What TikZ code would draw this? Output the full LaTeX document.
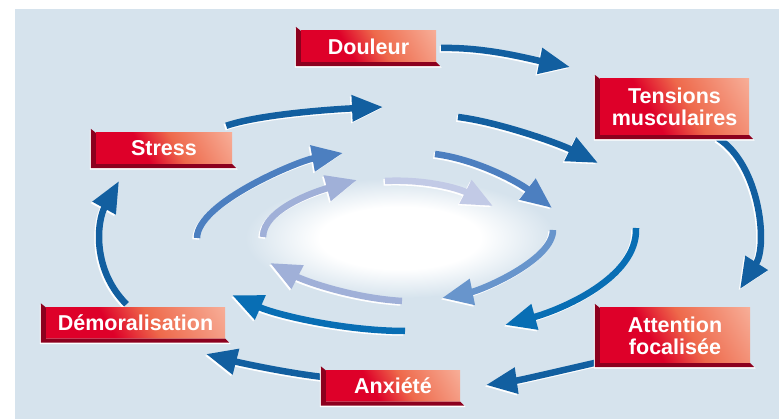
\documentclass[tikz,border=0pt]{standalone}
\usepackage{fontspec}
\setmainfont{Liberation Sans}
\usetikzlibrary{arrows.meta}
\pgfdeclarelayer{back}
\pgfdeclarelayer{mid}
\pgfsetlayers{back,mid,main}

\definecolor{bgblue}{RGB}{214,227,237}
\definecolor{bevel}{RGB}{140,0,30}
\definecolor{boxred}{RGB}{222,0,41}
\definecolor{boxmid}{RGB}{238,105,75}
\definecolor{boxpeach}{RGB}{252,212,194}
\definecolor{ring1}{RGB}{18,95,160}
\definecolor{ring2}{RGB}{8,110,180}
\definecolor{ring3}{RGB}{76,127,192}
\definecolor{ring4}{RGB}{104,149,204}
\definecolor{ring5}{RGB}{160,176,216}
\definecolor{ring6}{RGB}{194,202,230}

\pgfdeclarehorizontalshading{boxshade}{100bp}{color(0bp)=(boxred); color(40bp)=(boxred); color(56bp)=(boxmid); color(100bp)=(boxpeach)}
\pgfdeclareradialshading{glow}{\pgfpoint{0bp}{0bp}}{color(0bp)=(white); color(13bp)=(white); color(25bp)=(bgblue); color(50bp)=(bgblue)}

\tikzset{
	labelbox/.style={shade, shading=boxshade, shading angle=30, minimum height=31pt, inner sep=0pt, text=white, font=\fontsize{21.5}{22}\selectfont\bfseries, align=center},
	flow/.style={line width=6.5pt, -{Triangle[length=31pt,width=25pt]}},
}

\begin{document}
\begin{tikzpicture}[x=1pt, y=-1pt]
	\useasboundingbox (0,0) rectangle (779,419);
	\begin{pgfonlayer}{back}
		\fill[bgblue] (15,9) rectangle (779,419);
		\shade[shading=glow] (400,238) ellipse [x radius=155pt, y radius=60pt];
	\end{pgfonlayer}

	\node[labelbox, minimum width=135pt] (douleur) at (368.5,46.5) {Douleur};
	\node[labelbox, minimum width=149pt, minimum height=56pt] (tensions) at (674.5,107) {Tensions\\musculaires};
	\node[labelbox, minimum width=136pt] (stress) at (164,148.5) {Stress};
	\node[labelbox, minimum width=179pt] (demoral) at (135.5,323) {Démoralisation};
	\node[labelbox, minimum width=134pt] (anxiete) at (393,386) {Anxiété};
	\node[labelbox, minimum width=150pt, minimum height=55pt] (attention) at (675,335.5) {Attention\\focalisée};

	\foreach \n in {douleur, tensions, stress, demoral, anxiete, attention}{
		\fill[white] ([shift={(-6,-3)}]\n.north west) -- ([shift={(-6,5.5)}]\n.south west) -- ([shift={(5.5,5.5)}]\n.south east) -- (\n.south east) -- (\n.south west) -- (\n.north west) -- cycle;
		\fill[bevel] ([shift={(-5,-4)}]\n.north west) -- (\n.north west) -- (\n.south west) -- (\n.south east) -- ([shift={(4,4)}]\n.south east) -- ([shift={(-5,4)}]\n.south west) -- cycle;
	}

	\coordinate (a1) at ([shift={(5,1.5)}]douleur.east);
	\coordinate (a2) at (570,67);
	\coordinate (b1) at ([shift={(43.5,3)}]tensions.south);
	\coordinate (b2) at (740,289);
	\coordinate (c1) at ([shift={(-2,-1)}]attention.south west);
	\coordinate (c2) at (486,385);
	\coordinate (d1) at ([shift={(-3,-9)}]anxiete.west);
	\coordinate (d2) at (206,354);
	\coordinate (e1) at ([shift={(-9,-3)}]demoral.north);
	\coordinate (e2) at (119,181);
	\coordinate (f1) at ([shift={(-6,-7)}]stress.north east);
	\coordinate (f2) at (383,107);
	\coordinate (g1) at (458,117);
	\coordinate (g2) at (598,163);
	\coordinate (h1) at (636,228);
	\coordinate (h2) at (505,325);
	\coordinate (i1) at (405,331);
	\coordinate (i2) at (232,295);
	\coordinate (j1) at (197,238);
	\coordinate (j2) at (343,153);
	\coordinate (k1) at (435,154);
	\coordinate (k2) at (552,208);
	\coordinate (l1) at (553,230);
	\coordinate (l2) at (442,298);
	\coordinate (m1) at (402,301);
	\coordinate (m2) at (270,263);
	\coordinate (n1) at (263,237);
	\coordinate (n2) at (357,180);
	\coordinate (o1) at (385,181);
	\coordinate (o2) at (493,206);

	\begin{pgfonlayer}{mid}
	\foreach \s/\e/\ax/\ay/\bx/\by/\c in {a1/a2/45/-1/-40/-8/ring1, b1/b2/42/27/28/-44/ring1, c1/c2/-35/8/35/-5/ring1,
		d1/d2/-35/-4/35/9/ring1, e1/e2/-35/-35/-22/40/ring1, f1/f2/35/-12/-45/2/ring1, g1/g2/40/5/-40/-20/ring1,
		h1/h2/2/50/55/-15/ring2, i1/i2/-60/0/45/20/ring2, j1/j2/0/-35/-45/8/ring3, k1/k2/40/5/-35/-27/ring3,
		l1/l2/0/30/40/-8/ring4, m1/m2/-50/-3/35/18/ring5, n1/n2/0/-28/-40/11/ring5, o1/o2/40/-2/-35/-18/ring6}{
		\draw[flow, white] ([shift={(-1.5,1.5)}]\s) .. controls +(\ax,\ay) and +(\bx,\by) .. ([shift={(-1.5,1.5)}]\e);
		\draw[flow, \c] (\s) .. controls +(\ax,\ay) and +(\bx,\by) .. (\e);
	}
	\end{pgfonlayer}
\end{tikzpicture}
\end{document}
